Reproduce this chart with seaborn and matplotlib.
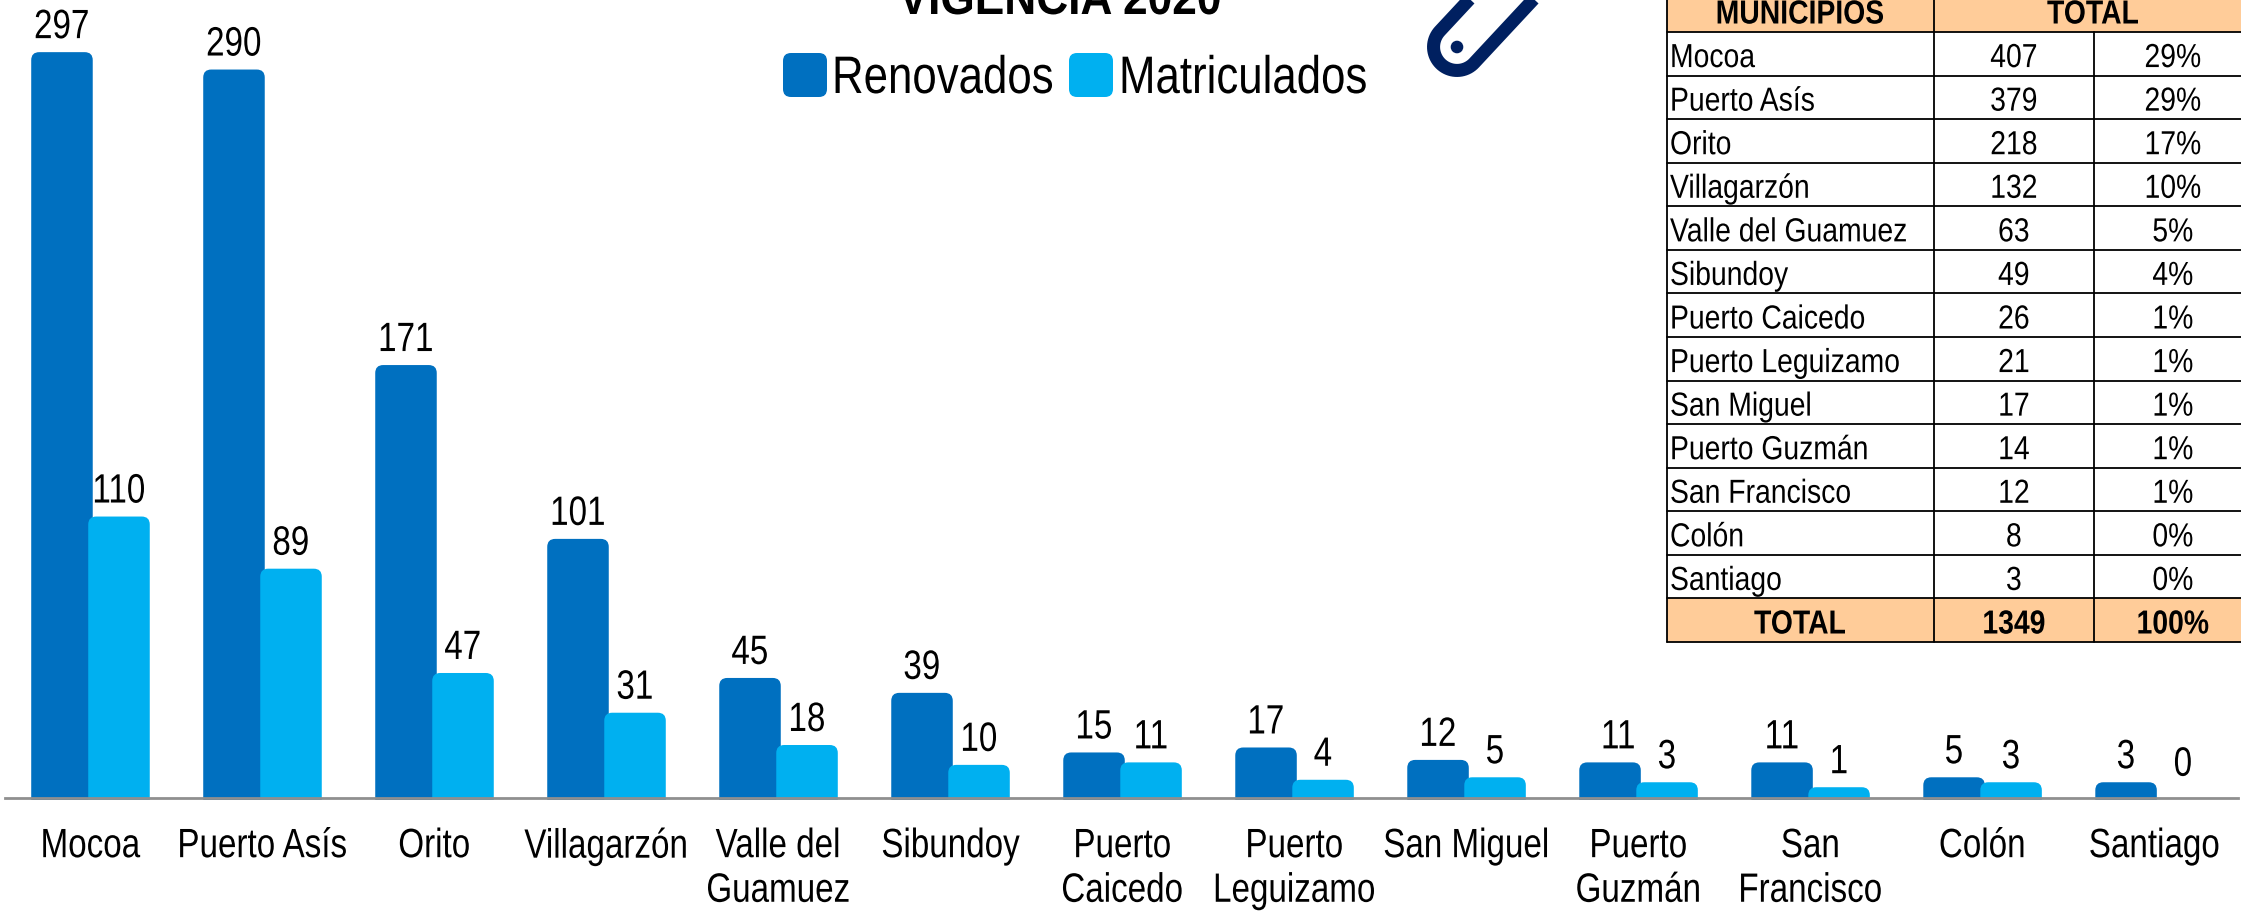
import numpy as np
import pandas as pd
import matplotlib
matplotlib.use('Agg')
import matplotlib.pyplot as plt
import seaborn as sns
from matplotlib.path import Path
from matplotlib.patches import PathPatch, FancyBboxPatch, Rectangle
from matplotlib.patheffects import AbstractPathEffect
from matplotlib.transforms import Affine2D

municipios = ['Mocoa', 'Puerto Asís', 'Orito', 'Villagarzón', 'Valle del\nGuamuez', 'Sibundoy',
              'Puerto\nCaicedo', 'Puerto\nLeguizamo', 'San Miguel', 'Puerto\nGuzmán', 'San\nFrancisco',
              'Colón', 'Santiago']
renovados = [297, 290, 171, 101, 45, 39, 15, 17, 12, 11, 11, 5, 3]
matriculados = [110, 89, 47, 31, 18, 10, 11, 4, 5, 3, 1, 3, 0]

tabla_nombres = ['Mocoa', 'Puerto Asís', 'Orito', 'Villagarzón', 'Valle del Guamuez', 'Sibundoy',
                 'Puerto Caicedo', 'Puerto Leguizamo', 'San Miguel', 'Puerto Guzmán', 'San Francisco',
                 'Colón', 'Santiago']
tabla_total = [407, 379, 218, 132, 63, 49, 26, 21, 17, 14, 12, 8, 3]
tabla_pct = ['29%', '29%', '17%', '10%', '5%', '4%', '1%', '1%', '1%', '1%', '1%', '0%', '0%']

AZUL = '#0070C0'
CELESTE = '#00B0F0'
NARANJA = '#FFCC99'
NAVY = '#002060'
W, H = 2241, 911


class Narrow(AbstractPathEffect):
    # the reference text is Arial squeezed sideways, no narrow Liberation here
    def __init__(self, sx, center=True):
        super().__init__()
        self.sx = sx
        self.center = center

    def draw_path(self, renderer, gc, tpath, affine, rgbFace=None):
        cx = 0
        if self.center and len(tpath.vertices):
            cx = (tpath.vertices[:, 0].min() + tpath.vertices[:, 0].max()) / 2
        squeeze = Affine2D().translate(-cx, 0).scale(self.sx, 1).translate(cx, 0)
        renderer.draw_path(gc, tpath, squeeze + affine, rgbFace)


sns.set_theme(style='white')
plt.rcParams['font.family'] = ['Liberation Sans', 'DejaVu Sans']

df = pd.DataFrame({
    'municipio': municipios * 2,
    'valor': renovados + matriculados,
    'tipo': ['Renovados'] * 13 + ['Matriculados'] * 13,
})

fig = plt.figure(figsize=(W / 100, H / 100), dpi=100)
# axes go from the category line up to the top of the image
ax = fig.add_axes([5 / W, (H - 798) / H, (2238 - 5) / W, 798 / H])
sns.barplot(data=df, x='municipio', y='valor', hue='tipo', palette=[AZUL, CELESTE], saturation=1,
            width=0.663, gap=-0.079, legend=False, ax=ax)
ax.set_xlim(-0.497, 12.485)
ax.set_ylim(-3.34, 318)
ax.set_xlabel('')
ax.set_ylabel('')
ax.set_yticks([])
ax.set_xticks(range(13))
ax.set_xticklabels(municipios, fontsize=29.5, linespacing=1.22, color='black')
ax.tick_params(axis='x', length=0, pad=21)
for s in ['top', 'left', 'right']:
    ax.spines[s].set_visible(False)
ax.spines['bottom'].set_color('#8f8f8f')
ax.spines['bottom'].set_linewidth(2.0)
ax.spines['bottom'].set_zorder(5)
ax.patch.set_alpha(0)

# swap the square bars for ones with a rounded top
px_x = ax.transData.transform((1, 0))[0] - ax.transData.transform((0, 0))[0]
px_y = ax.transData.transform((0, 1))[1] - ax.transData.transform((0, 0))[1]
rx, ry = 8 / px_x, 8 / px_y
y0 = ax.get_ylim()[0] - 2 / px_y
etiquetas = []
for p in list(ax.patches):
    x1, w, v = p.get_x(), p.get_width(), p.get_height()
    x2 = x1 + w
    color = p.get_facecolor()
    p.remove()
    etiquetas.append(ax.annotate(str(int(v)), (x1 + w / 2, v), xytext=(0, 18), textcoords='offset points',
                                 ha='center', va='center', fontsize=29.5, color='black'))
    if v == 0:
        continue
    verts = [(x1, y0), (x1, v - ry), (x1, v), (x1 + rx, v), (x2 - rx, v), (x2, v), (x2, v - ry), (x2, y0), (x1, y0)]
    codes = [Path.MOVETO, Path.LINETO, Path.CURVE3, Path.CURVE3, Path.LINETO,
             Path.CURVE3, Path.CURVE3, Path.LINETO, Path.CLOSEPOLY]
    ax.add_patch(PathPatch(Path(verts, codes), facecolor=color, edgecolor='none', clip_on=False, zorder=2))

# the Puerto Guzmán label sits a bit to the right in the original
etiquetas[9].xyann = (6, 18)

for t in ax.get_xticklabels() + etiquetas:
    t.set_path_effects([Narrow(0.81)])

# overlay in image pixels for title, legend, icon and table
ov = fig.add_axes([0, 0, 1, 1])
ov.set_xlim(0, W)
ov.set_ylim(H, 0)
ov.axis('off')

ov.text(1060, 14, 'VIGENCIA 2020', fontsize=35, fontweight='bold', ha='center', va='baseline',
        color='black', path_effects=[Narrow(0.91)])

for x, c, t, tx in [(783, AZUL, 'Renovados', 832), (1069, CELESTE, 'Matriculados', 1119)]:
    ov.add_patch(FancyBboxPatch((x + 8, 61), 44 - 16, 44 - 16, boxstyle='round,pad=8,rounding_size=8',
                                facecolor=c, edgecolor='none'))
    ov.text(tx, 93, t, fontsize=38, ha='left', va='baseline', color='black', path_effects=[Narrow(0.83, False)])

# wrench icon
c = np.array([1457.0, 47.0])
u = np.array([0.68, -0.73])
n = np.array([0.73, 0.68])
r = 23.5
t = np.linspace(0, np.pi, 40)
arc = np.array([c + r * (np.cos(a) * n - np.sin(a) * u) for a in t])
icon = np.vstack([c + r * n + 90 * u, arc, c - r * n + 90 * u])
ov.plot(icon[:, 0], icon[:, 1], color=NAVY, lw=9.4, solid_capstyle='butt', solid_joinstyle='round')
ov.add_patch(plt.Circle(c, 6.3, color=NAVY, lw=0))

# table
x_cols = [1667, 1934, 2094, 2252]
y_head = 32
y_bottom = 642
row_h = (y_bottom - y_head) / 14
ov.add_patch(Rectangle((x_cols[0], -10), x_cols[3] - x_cols[0], y_head + 10, facecolor=NARANJA, edgecolor='none'))
ov.add_patch(Rectangle((x_cols[0], y_bottom - row_h), x_cols[3] - x_cols[0], row_h, facecolor=NARANJA, edgecolor='none'))
for i in range(15):
    yy = y_head + i * row_h
    ov.plot([x_cols[0], x_cols[3]], [yy, yy], color='black', lw=1.3)
ov.plot([x_cols[0], x_cols[0]], [-10, y_bottom], color='black', lw=1.3)
ov.plot([x_cols[1], x_cols[1]], [-10, y_bottom], color='black', lw=1.3)
ov.plot([x_cols[2], x_cols[2]], [y_head, y_bottom], color='black', lw=1.3)

nar_c = [Narrow(0.85)]
nar_l = [Narrow(0.85, False)]
ov.text(1800, 23.5, 'MUNICIPIOS', fontsize=24, fontweight='bold', ha='center', va='baseline', color='black', path_effects=nar_c)
ov.text(2093, 23.5, 'TOTAL', fontsize=24, fontweight='bold', ha='center', va='baseline', color='black', path_effects=nar_c)
for i in range(13):
    yy = y_head + (i + 1) * row_h - 8.5
    ov.text(1670, yy, tabla_nombres[i], fontsize=24, ha='left', va='baseline', color='black', path_effects=nar_l)
    ov.text(2014, yy, str(tabla_total[i]), fontsize=24, ha='center', va='baseline', color='black', path_effects=nar_c)
    ov.text(2173, yy, tabla_pct[i], fontsize=24, ha='center', va='baseline', color='black', path_effects=nar_c)
yy = y_bottom - 8.5
ov.text(1800, yy, 'TOTAL', fontsize=24, fontweight='bold', ha='center', va='baseline', color='black', path_effects=nar_c)
ov.text(2014, yy, str(sum(tabla_total)), fontsize=24, fontweight='bold', ha='center', va='baseline', color='black', path_effects=nar_c)
ov.text(2173, yy, '100%', fontsize=24, fontweight='bold', ha='center', va='baseline', color='black', path_effects=nar_c)

fig.savefig('out.png', dpi=100)
